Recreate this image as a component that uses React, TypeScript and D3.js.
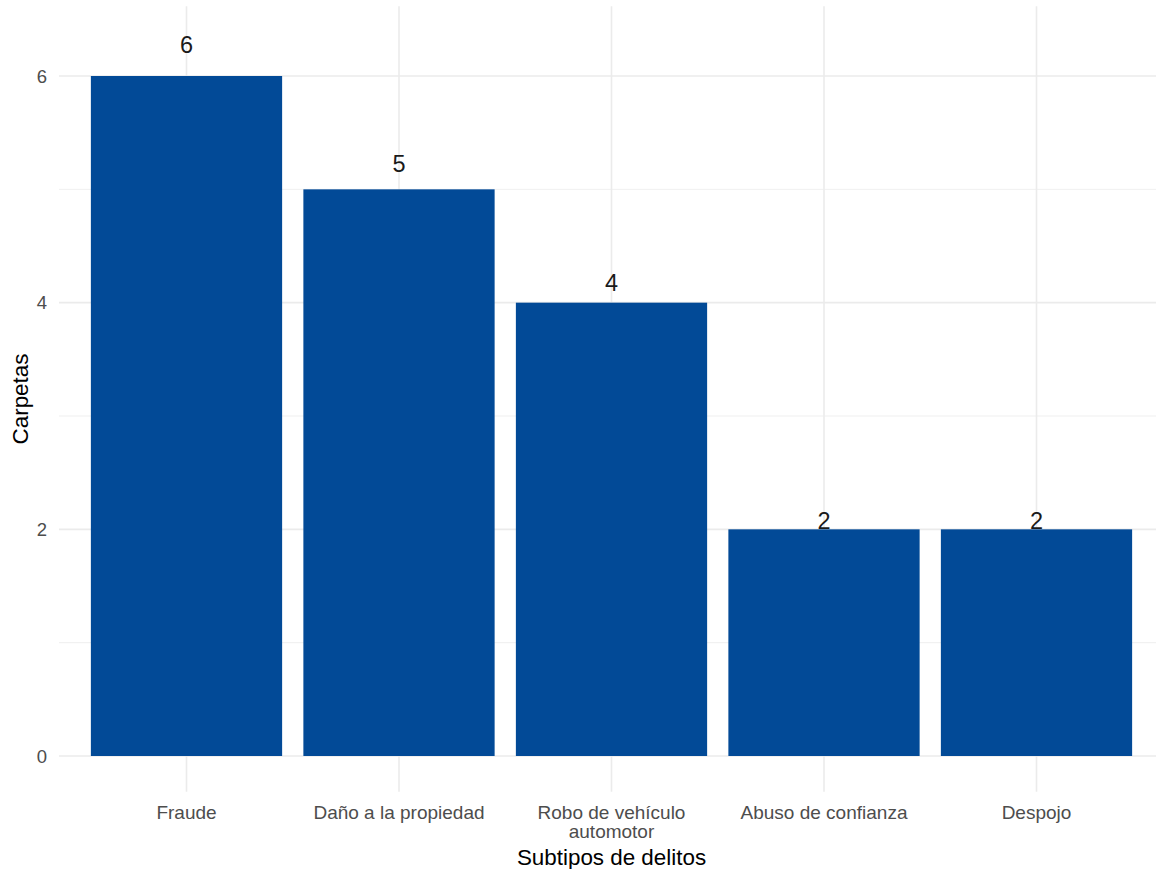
import React from "react";
import * as d3 from "d3";

const categories: string[][] = [
  ["Fraude"],
  ["Daño a la propiedad"],
  ["Robo de vehículo", "automotor"],
  ["Abuso de confianza"],
  ["Despojo"],
];
const values: number[] = [6, 5, 4, 2, 2];
const yTicks: number[] = [0, 2, 4, 6];
const yMinorTicks: number[] = [1, 3, 5];
const xTitle = "Subtipos de delitos";
const yTitle = "Carpetas";

const W = 1156;
const H = 869;
const FONT = "'Liberation Sans', Arial, sans-serif";

export default function App() {
  const keys = categories.map((c) => c.join(" "));
  const x = d3
    .scaleBand<string>()
    .domain(keys)
    .range([59, 1164])
    .paddingInner(0.1)
    .paddingOuter(0.15);
  const labelY = values.map((v) => v * 1.05);
  const yMax = d3.max(labelY) as number;
  const y = d3
    .scaleLinear()
    .domain([-0.05 * yMax, yMax * 1.05])
    .range([791.7, 6.3]);
  const [top, bottom] = [y.range()[1], y.range()[0]];
  const left = 59;
  const right = 1164;

  return (
    <svg
      width={W}
      height={H}
      style={{ position: "absolute", left: 0, top: 0, background: "#fff" }}
      fontFamily={FONT}
    >
      <rect x={0} y={0} width={W} height={H} fill="#fff" />
      {yMinorTicks.map((t) => (
        <line key={"mi" + t} x1={left} x2={right} y1={y(t)} y2={y(t)} stroke="#ebebeb" strokeWidth={0.8} />
      ))}
      {yTicks.map((t) => (
        <line key={"ma" + t} x1={left} x2={right} y1={y(t)} y2={y(t)} stroke="#ebebeb" strokeWidth={1.6} />
      ))}
      {keys.map((k) => (
        <line
          key={"vx" + k}
          x1={(x(k) as number) + x.bandwidth() / 2}
          x2={(x(k) as number) + x.bandwidth() / 2}
          y1={top}
          y2={bottom}
          stroke="#ebebeb"
          strokeWidth={1.6}
        />
      ))}
      {keys.map((k, i) => (
        <rect
          key={"b" + k}
          x={x(k) as number}
          width={x.bandwidth()}
          y={y(values[i])}
          height={y(0) - y(values[i])}
          fill="#024a97"
        />
      ))}
      {keys.map((k, i) => (
        <text
          key={"l" + k}
          x={(x(k) as number) + x.bandwidth() / 2}
          y={y(labelY[i]) + 3}
          dy="0.36em"
          textAnchor="middle"
          fontSize={23.5}
          fill="#1a1a1a"
        >
          {values[i]}
        </text>
      ))}
      {yTicks.map((t) => (
        <text key={"yt" + t} x={47} y={y(t)} dy="0.36em" textAnchor="end" fontSize={18.5} fill="#4d4d4d">
          {t}
        </text>
      ))}
      {keys.map((k, i) => (
        <text
          key={"xt" + k}
          x={(x(k) as number) + x.bandwidth() / 2}
          y={819}
          textAnchor="middle"
          fontSize={19}
          fill="#4d4d4d"
        >
          {categories[i].map((line, j) => (
            <tspan key={j} x={(x(k) as number) + x.bandwidth() / 2} dy={j === 0 ? 0 : 19}>
              {line}
            </tspan>
          ))}
        </text>
      ))}
      <text x={611.5} y={865} textAnchor="middle" fontSize={22.4} fill="#000">
        {xTitle}
      </text>
      <text
        transform={`translate(28, ${(top + bottom) / 2}) rotate(-90)`}
        textAnchor="middle"
        fontSize={22.4}
        fill="#000"
      >
        {yTitle}
      </text>
    </svg>
  );
}
